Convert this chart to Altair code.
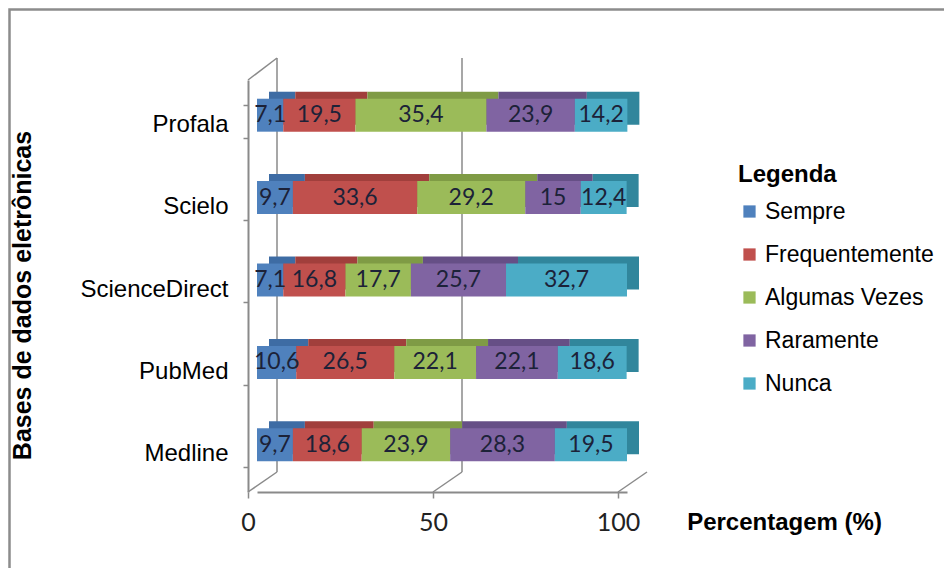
import altair as alt
import pandas as pd

bases = ["Profala", "Scielo", "ScienceDirect", "PubMed", "Medline"]
categorias = ["Sempre", "Frequentemente", "Algumas Vezes", "Raramente", "Nunca"]
sempre = [7.1, 9.7, 7.1, 10.6, 9.7]
frequentemente = [19.5, 33.6, 16.8, 26.5, 18.6]
algumas = [35.4, 29.2, 17.7, 22.1, 23.9]
raramente = [23.9, 15.0, 25.7, 22.1, 28.3]
nunca = [14.2, 12.4, 32.7, 18.6, 19.5]
rotulos = [
    ["7,1", "19,5", "35,4", "23,9", "14,2"],
    ["9,7", "33,6", "29,2", "15", "12,4"],
    ["7,1", "16,8", "17,7", "25,7", "32,7"],
    ["10,6", "26,5", "22,1", "22,1", "18,6"],
    ["9,7", "18,6", "23,9", "28,3", "19,5"],
]
cores = ["#4F81BD", "#C0504D", "#9BBB59", "#8064A2", "#4BACC6"]
cores_topo = ["#3E6CA4", "#A13F3C", "#7F9B45", "#664F86", "#31869C"]
ticks_x = [0, 50, 100]
grade_x = [0, 50]

series = [sempre, frequentemente, algumas, raramente, nunca]
rows = []
for i, b in enumerate(bases):
    acc = 0.0
    for j, c in enumerate(categorias):
        v = series[j][i]
        rows.append({"base": b, "cat": c, "ordem": j, "ini": acc, "fim": acc + v,
                     "meio": acc + v / 2, "rot": rotulos[i][j], "topo": c + " "})
        acc += v
df = pd.DataFrame(rows)

W, H = 370, 412
PL, PT = 249, 72
PR = 952 - 16 - PL - W
PB = 576 - 16 - PT - H
FRONT = -9      # front plane shift of the axis
DX, DY = 20, -20  # depth of the back wall
GRID = "#8a8a8a"

x_scale = alt.Scale(domain=[0, 100], nice=False)

y_enc = alt.Y("base:N", sort=bases, scale=alt.Scale(paddingInner=0.6, paddingOuter=0.3),
              axis=alt.Axis(title="Bases de dados eletrônicas", titleFont="Liberation Sans",
                            titleFontSize=25, titleFontWeight="bold", titleColor="#000",
                            titleX=-226, titleY=215, titleAlign="center", titleBaseline="middle",
                            titleAngle=270,
                            labelFont="Liberation Sans", labelFontSize=24, labelColor="#000",
                            labelPadding=15, labelOffset=3, tickBand="extent", tickSize=5,
                            tickColor=GRID, tickWidth=1.5, domainColor=GRID, domainWidth=2,
                            offset=-FRONT, zindex=1))

frame = alt.Chart(pd.DataFrame({"a": [0]})).mark_rect(
    fillOpacity=0, stroke="#8c8c8c", strokeWidth=2.5
).encode(x=alt.value(-PL + 1.5), x2=alt.value(W + PR + 50),
         y=alt.value(-PT + 1.5), y2=alt.value(H + PB + 50))

grid = alt.Chart(pd.DataFrame({"g": grade_x})).mark_rule(
    color=GRID, strokeWidth=1.5, xOffset=FRONT + DX + 9
).encode(x=alt.X("g:Q", scale=x_scale), y=alt.value(DY - 2), y2=alt.value(H + DY))

piso = alt.Chart(pd.DataFrame({"t": ticks_x})).mark_rule(
    color=GRID, strokeWidth=1.5, xOffset=FRONT, x2Offset=FRONT + DX + 9
).encode(x=alt.X("t:Q", scale=x_scale), x2="t:Q", y=alt.value(H), y2=alt.value(H + DY))

parede = alt.Chart(pd.DataFrame({"t": [0]})).mark_rule(
    color=GRID, strokeWidth=1.5, xOffset=FRONT, x2Offset=FRONT + DX + 9
).encode(x=alt.X("t:Q", scale=x_scale), x2="t:Q", y=alt.value(0), y2=alt.value(DY - 2))

topo = alt.Chart(df).mark_bar(xOffset=12, x2Offset=12, yOffset=-13, y2Offset=-13).encode(
    x=alt.X("ini:Q", scale=x_scale),
    x2="fim:Q",
    y=y_enc,
    color=alt.Color("topo:N", scale=alt.Scale(domain=[c + " " for c in categorias], range=cores_topo),
                    legend=None),
)

frente = alt.Chart(df).mark_bar(yOffset=-6, y2Offset=-6).encode(
    x=alt.X("ini:Q", scale=x_scale,
            axis=alt.Axis(values=ticks_x, title="Percentagem (%)", grid=False,
                          titleFont="Liberation Sans", titleFontSize=24, titleFontWeight="bold",
                          titleColor="#000", titleX=527, titleY=30, titleAlign="center",
                          titleBaseline="middle", labelFont="Lato", labelFontSize=25,
                          labelColor="#222", labelPadding=12, labelFlush=False,
                          tickColor=GRID, tickSize=6, tickWidth=1.5, tickOffset=FRONT,
                          domainColor=GRID, domainWidth=2, zindex=1)),
    x2="fim:Q",
    y=alt.Y("base:N", sort=bases),
    color=alt.Color("cat:N", scale=alt.Scale(domain=categorias, range=cores),
                    legend=alt.Legend(title="Legenda", orient="none", legendX=481, legendY=83,
                                      titleFont="Liberation Sans", titleFontSize=24,
                                      titleFontWeight="bold", titleColor="#000", titlePadding=13,
                                      labelFont="Liberation Sans", labelFontSize=23,
                                      labelColor="#000", labelLimit=400, symbolType="square",
                                      symbolSize=150, symbolStrokeWidth=0, rowPadding=19,
                                      labelOffset=4)),
)

texto = alt.Chart(df).mark_text(font="Lato", fontSize=23, color="#1c2238", dy=-6).encode(
    x=alt.X("meio:Q", scale=x_scale),
    y=alt.Y("base:N", sort=bases),
    text="rot:N",
)

chart = alt.layer(frame, grid, piso, parede, topo, frente, texto).resolve_scale(
    color="independent"
).properties(
    width=W, height=H,
    autosize=alt.AutoSizeParams(type="none"),
    padding={"left": PL, "top": PT, "right": PR, "bottom": PB},
).configure_view(stroke=None)

chart.save("out.html", embed_options={"renderer": "svg", "actions": False})
